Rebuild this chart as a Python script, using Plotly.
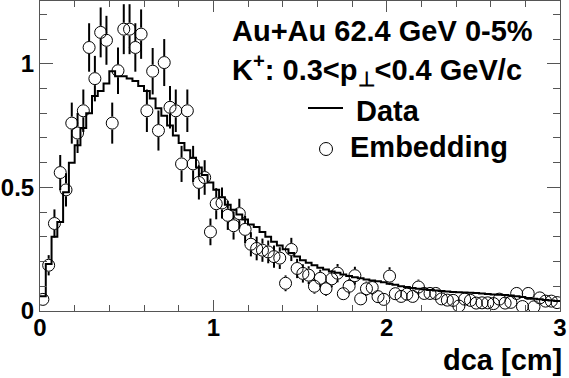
import plotly.graph_objects as go

# ---- data (90 bins, width 1/30, 0..3 cm) ----
n_bins = 90
x_min, x_max = 0.0, 3.0

data_vals = [
    0.06, 0.19, 0.30, 0.36, 0.48, 0.60, 0.67, 0.74, 0.80, 0.87,
    0.89, 0.92, 0.97, 0.95, 0.95, 0.94, 0.93, 0.91, 0.89, 0.86,
    0.82, 0.79, 0.75, 0.71, 0.68, 0.65, 0.62, 0.58, 0.55, 0.52,
    0.49, 0.46, 0.43, 0.41, 0.39, 0.37, 0.35, 0.34, 0.32, 0.30,
    0.28, 0.265, 0.25, 0.235, 0.22, 0.205, 0.195, 0.185, 0.175, 0.168,
    0.16, 0.155, 0.148, 0.142, 0.137, 0.132, 0.127, 0.123, 0.12, 0.116,
    0.11, 0.106, 0.10, 0.097, 0.093, 0.09, 0.088, 0.085, 0.083, 0.081,
    0.079, 0.077, 0.076, 0.075, 0.074, 0.073, 0.071, 0.069, 0.067, 0.066,
    0.065, 0.063, 0.06, 0.057, 0.053, 0.05, 0.048, 0.045, 0.042, 0.04,
]

emb_vals = [
    0.047, 0.185, 0.354, 0.56, 0.49, 0.76, 0.72, 0.81, 1.066, 0.94,
    1.127, 1.095, 0.76, 0.972, 1.14, 1.14, 1.066, 1.12, 0.81, 0.97,
    0.73, 1.005, 0.824, 0.81, 0.595, 0.81, 0.595, 0.52, 0.54, 0.32,
    0.434, 0.437, 0.387, 0.345, 0.394, 0.33, 0.27, 0.253, 0.246, 0.239,
    0.22, 0.214, 0.112, 0.249, 0.172, 0.152, 0.145, 0.10, 0.132, 0.09,
    0.13, 0.153, 0.07, 0.10, 0.143, 0.049, 0.09, 0.095, 0.058, 0.047,
    0.141, 0.07, 0.059, 0.068, 0.059, 0.097, 0.071, 0.071, 0.071, 0.049,
    0.044, 0.043, 0.02, 0.048, 0.043, 0.032, 0.033, 0.033, 0.03, 0.048,
    0.032, 0.035, 0.071, 0.018, 0.071, 0.017, 0.053, 0.04, 0.04, 0.034,
]

emb_errs = [
    0.021, 0.041, 0.057, 0.071, 0.067, 0.083, 0.081, 0.086, 0.098, 0.092,
    0.101, 0.099, 0.083, 0.094, 0.101, 0.101, 0.098, 0.100, 0.086, 0.094,
    0.081, 0.095, 0.086, 0.086, 0.073, 0.086, 0.073, 0.069, 0.070, 0.054,
    0.063, 0.063, 0.059, 0.056, 0.060, 0.055, 0.049, 0.048, 0.047, 0.046,
    0.045, 0.044, 0.032, 0.047, 0.039, 0.037, 0.036, 0.030, 0.035, 0.029,
    0.034, 0.037, 0.025, 0.030, 0.036, 0.021, 0.029, 0.029, 0.023, 0.021,
    0.036, 0.025, 0.023, 0.025, 0.023, 0.030, 0.025, 0.025, 0.025, 0.021,
    0.020, 0.020, 0.013, 0.021, 0.020, 0.017, 0.017, 0.017, 0.016, 0.021,
    0.017, 0.018, 0.025, 0.013, 0.025, 0.012, 0.022, 0.019, 0.019, 0.018,
]

x_ticks = [0, 1, 2, 3]
x_tick_labels = ["0", "1", "2", "3"]
y_ticks = [0, 0.5, 1]
y_tick_labels = ["0", "0.5", "1"]

title_line1 = "Au+Au 62.4 GeV 0-5%"
title_line2 = "K<sup>+</sup>: 0.3<p<sub>⊥</sub><0.4 GeV/c"
legend_data = "Data"
legend_emb = "Embedding"
x_title = "dca [cm]"

# ---- geometry / style ----
W, H = 569, 378
ML, MR, MT, MB = 40, 9, 1, 67
y_range = [0, 1.254]
plot_h = H - MT - MB
marker_size = 12
FONT = "Liberation Sans, Arial, Helvetica, sans-serif"

bw = (x_max - x_min) / n_bins
edges = [x_min + i * bw for i in range(n_bins + 1)]
centers = [x_min + (i + 0.5) * bw for i in range(n_bins)]

# histogram as a step line through bin edges
hx = edges[:]
hy = data_vals + [data_vals[-1]]

# error bars drawn outside the open circles (ROOT style)
gap = (marker_size / 2 + 0.5) * (y_range[1] - y_range[0]) / plot_h
ex, ey = [], []
for xc, v, e in zip(centers, emb_vals, emb_errs):
    if e > gap:
        ex += [xc, xc, None, xc, xc, None]
        ey += [v + gap, v + e, None, v - gap, v - e, None]

fig = go.Figure()
fig.add_trace(go.Scatter(x=hx, y=hy, mode="lines", line=dict(color="black", width=2, shape="hv"),
                         showlegend=False, hoverinfo="skip"))
fig.add_trace(go.Scatter(x=ex, y=ey, mode="lines", line=dict(color="black", width=2),
                         showlegend=False, hoverinfo="skip"))
fig.add_trace(go.Scatter(x=centers, y=emb_vals, mode="markers",
                         marker=dict(symbol="circle-open", size=marker_size, color="black",
                                     line=dict(width=1, color="black")),
                         showlegend=False))

axis_common = dict(
    showline=True, linecolor="#555", linewidth=1, mirror="ticks",
    ticks="inside", tickcolor="#555", tickwidth=1,
    showgrid=False, zeroline=False, automargin=False,
    tickfont=dict(family=FONT, size=24, color="black", weight="bold"),
)

fig.update_xaxes(range=[x_min, x_max], tickvals=x_ticks, ticktext=x_tick_labels, ticklen=11,
                 ticklabelstandoff=-5,
                 minor=dict(ticks="inside", dtick=0.2, ticklen=6, tickcolor="#555", tickwidth=1),
                 **axis_common)
fig.update_yaxes(range=y_range, tickvals=y_ticks, ticktext=y_tick_labels, ticklen=13,
                 minor=dict(ticks="inside", dtick=0.1, ticklen=7, tickcolor="#555", tickwidth=1),
                 **axis_common)

def px_to_paper_x(px):
    return (px - ML) / (W - ML - MR)

def py_to_paper_y(py):
    return (H - MB - py) / plot_h

txt_font = dict(family=FONT, size=29, color="black", weight="bold")
annotations = [
    dict(text=title_line1, x=px_to_paper_x(230), y=py_to_paper_y(31), xanchor="left", yanchor="middle"),
    dict(text=title_line2, x=px_to_paper_x(230), y=py_to_paper_y(70), xanchor="left", yanchor="middle"),
    dict(text=legend_data, x=px_to_paper_x(354), y=py_to_paper_y(111), xanchor="left", yanchor="middle"),
    dict(text=legend_emb, x=px_to_paper_x(348), y=py_to_paper_y(147), xanchor="left", yanchor="middle"),
    dict(text=x_title, x=px_to_paper_x(564), y=py_to_paper_y(360), xanchor="right", yanchor="middle"),
]
for a in annotations:
    a.setdefault("font", txt_font)
    a.update(xref="paper", yref="paper", showarrow=False)

shapes = [
    dict(type="line", xref="paper", yref="paper", x0=px_to_paper_x(308), x1=px_to_paper_x(343),
         y0=py_to_paper_y(108), y1=py_to_paper_y(108), line=dict(color="black", width=2)),
    dict(type="circle", xref="paper", yref="paper",
         x0=px_to_paper_x(326 - 6.5), x1=px_to_paper_x(326 + 6.5),
         y0=py_to_paper_y(149 + 6.5), y1=py_to_paper_y(149 - 6.5), line=dict(color="black", width=1)),
]

fig.update_layout(width=W, height=H, autosize=False,
                  margin=dict(l=ML, r=MR, t=MT, b=MB),
                  paper_bgcolor="white", plot_bgcolor="white",
                  annotations=annotations, shapes=shapes)

fig.write_html("out.html", config={"displayModeBar": False},
               post_script="document.body.style.margin='0';document.body.style.overflow='hidden';")
